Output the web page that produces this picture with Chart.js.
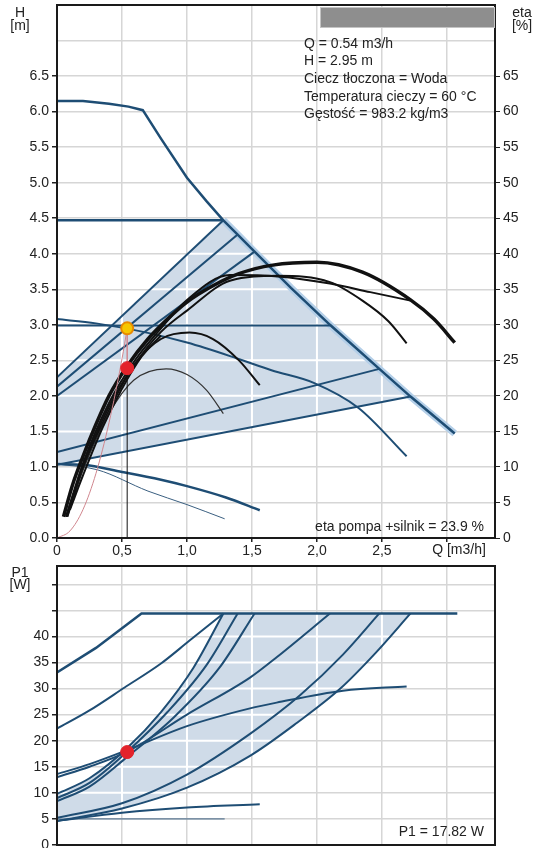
<!DOCTYPE html>
<html lang="pl">
<head>
<meta charset="UTF-8">
<title>Krzywe pompy</title>
<script src="https://cdn.jsdelivr.net/npm/chart.js"></script>
<style>
  body { margin: 0; background: #fff; }
  #topBox { position: absolute; left: 0; top: 0; width: 544px; height: 560px; }
  #botBox { position: absolute; left: 0; top: 560px; width: 544px; height: 288px; }
</style>
</head>
<body>
<div id="topBox"><canvas id="hChart"></canvas></div>
<div id="botBox"><canvas id="pChart"></canvas></div>
<script>
// ---- data: [Q m3/h, H m] ----
const hMax     = [[0,6.15],[0.2,6.15],[0.4,6.11],[0.55,6.07],[0.66,6.02],[0.8,5.62],[1.0,5.07],[1.15,4.74],[1.28,4.47],[1.39,4.27],[1.52,4.03],[1.8,3.52],[2.1,3.0],[2.48,2.38],[2.72,1.99],[3.06,1.47]];
const hConst45 = [[0,4.47],[1.28,4.47]];
const hConst3  = [[0,2.99],[2.1,2.99]];
const hProp1   = [[0,2.26],[1.28,4.47]];
const hProp2   = [[0,2.13],[1.39,4.27]];
const hProp3   = [[0,2.0],[1.52,4.03]];
const hRise1   = [[0,1.21],[2.48,2.38]];
const hRise2   = [[0,1.03],[2.72,1.99]];
const hSpeed   = [[0,3.08],[0.3,3.02],[0.69,2.89],[1.0,2.75],[1.38,2.53],[1.65,2.36],[1.98,2.18],[2.32,1.83],[2.69,1.15]];
const hMin     = [[0,1.04],[0.2,1.03],[0.5,0.93],[0.8,0.82],[1.0,0.73],[1.3,0.57],[1.56,0.39]];
const hMinThin = [[0,1.04],[0.31,0.96],[0.7,0.66],[1.0,0.47],[1.29,0.27]];
const hSystem  = [[0,0],[0.1,0.1],[0.2,0.4],[0.3,0.91],[0.4,1.62],[0.5,2.52],[0.54,2.95]];

// efficiency curves: [Q, eta %]
const etaA = [[0.05,3],[0.12,7.5],[0.2,11.5],[0.3,16],[0.4,20],[0.54,24.2],[0.7,28],[0.85,30.8],[1.0,33.2],[1.2,35.5],[1.4,37.2],[1.66,38.4],[2.0,38.8],[2.35,37.4],[2.72,33.5],[2.9,30.8],[3.06,27.5]];
const etaB = [[0.08,3],[0.2,10],[0.4,18.5],[0.6,24.5],[0.8,29],[1.0,32],[1.33,36.2],[1.7,36.9],[2.1,36],[2.35,33.4],[2.55,30.5],[2.69,27.4]];
const etaC = [[0.07,3],[0.2,10.5],[0.4,19],[0.6,25],[0.8,29.5],[1.0,33.5],[1.33,37],[1.7,36.8],[2.1,35.8],[2.41,34.6],[2.72,33.4]];
const etaD = [[0.07,3],[0.2,10],[0.4,18],[0.6,24.5],[0.8,28],[1.02,28.9],[1.2,28],[1.4,25],[1.56,21.5]];
const etaE = [[0.08,3],[0.2,9.5],[0.4,17.5],[0.59,22.2],[0.84,23.8],[1.0,23],[1.15,20.8],[1.28,17.5]];
const etaF = [[0.1,4],[0.2,8.8],[0.35,15.5],[0.5,21],[0.65,25.5],[0.8,28.5]];

// power curves: [Q, P1 W]
const pMax     = [[0,33.1],[0.3,37.8],[0.65,44.4],[3.08,44.4]];
const pConst45 = [[0,22.3],[0.25,25.8],[0.52,30.2],[0.8,34.8],[1.02,39.2],[1.28,44.4]];
const pProp1   = [[0,9.8],[0.25,12.8],[0.54,18.6],[0.8,25.5],[1.05,34],[1.28,44.4]];
const pProp2   = [[0,9.0],[0.25,11.9],[0.54,17.9],[0.85,25.5],[1.15,34.5],[1.39,44.4]];
const pProp3   = [[0,8.4],[0.25,11.2],[0.54,16.9],[0.9,24.5],[1.25,34],[1.52,44.4]];
const pConst3  = [[0,13.0],[0.25,15],[0.54,17.9],[1.0,25],[1.485,32.1],[1.69,36],[2.1,44.4]];
const pSpeed   = [[0,13.6],[0.25,15.5],[0.54,18.2],[1.0,22.8],[1.485,26.2],[1.69,27.3],[2.2,29.6],[2.69,30.4]];
const pRise1   = [[0,5.2],[0.5,8],[1.0,13.5],[1.485,21.3],[1.87,28.7],[2.2,36.5],[2.48,44.4]];
const pRise2   = [[0,4.6],[0.5,7],[1.0,11],[1.485,17.1],[1.85,23.5],[2.18,30],[2.45,36.8],[2.72,44.4]];
const pMin     = [[0,4.6],[0.5,6.2],[1.0,7.2],[1.56,7.8]];
const pMinThin = [[0,5.0],[1.29,5.0]];

// duty point
const dutyQ = 0.54, dutyH = 2.95, dutyEta = 23.9, dutyP = 17.82;

const infoLines = ['Q = 0.54 m3/h', 'H = 2.95 m', 'Ciecz tłoczona = Woda', 'Temperatura cieczy = 60 °C', 'Gęstość = 983.2 kg/m3'];

const FONT = '"Liberation Sans", Arial, sans-serif';
const BLUE = '#1e4d74';
const BLACK = '#111';
const GRID = '#d6d6d6';
const SHADE = '#cfdbe8';
const GLOW = '#b4cfe8';

const xy = a => a.map(p => ({ x: p[0], y: p[1] }));

function curve(data, color, width, extra) {
  return Object.assign({
    type: 'line', data: xy(data), borderColor: color, borderWidth: width,
    pointRadius: 0, fill: false, cubicInterpolationMode: 'monotone', order: 3
  }, extra || {});
}
const straight = { cubicInterpolationMode: 'default', tension: 0 };

function shadeSet(data, yAxisID) {
  return { type: 'line', data: xy(data), yAxisID, fill: 'shape', backgroundColor: SHADE,
    borderWidth: 0, pointRadius: 0, tension: 0, order: 10, shade: true };
}

// white grid lines inside the shaded operating range
const shadeGrid = {
  id: 'shadeGrid',
  afterDatasetDraw(chart, args) {
    const ds = chart.data.datasets[args.index];
    if (!ds.shade) return;
    const ctx = chart.ctx, area = chart.chartArea;
    const xs = chart.scales.x, ys = chart.scales[ds.yAxisID];
    const pts = args.meta.data;
    ctx.save();
    ctx.beginPath();
    pts.forEach((p, i) => i ? ctx.lineTo(p.x, p.y) : ctx.moveTo(p.x, p.y));
    ctx.closePath();
    ctx.clip();
    ctx.strokeStyle = '#fff';
    ctx.lineWidth = 2;
    xs.ticks.forEach(t => {
      const x = xs.getPixelForValue(t.value);
      ctx.beginPath(); ctx.moveTo(x, area.top); ctx.lineTo(x, area.bottom); ctx.stroke();
    });
    ys.ticks.forEach(t => {
      const y = ys.getPixelForValue(t.value);
      ctx.beginPath(); ctx.moveTo(area.left, y); ctx.lineTo(area.right, y); ctx.stroke();
    });
    ctx.restore();
  }
};

function frame(chart) {
  const a = chart.chartArea, ctx = chart.ctx;
  ctx.save();
  ctx.strokeStyle = '#1a1a1a';
  ctx.lineWidth = 2;
  ctx.strokeRect(a.left, a.top, a.right - a.left, a.bottom - a.top);
  ctx.restore();
}

const topText = {
  id: 'topText',
  afterDraw(chart) {
    frame(chart);
    const ctx = chart.ctx;
    ctx.save();
    // grey legend bar
    ctx.fillStyle = '#8e8e8e';
    ctx.fillRect(320, 7, 175, 20);
    ctx.strokeStyle = '#c4c4c4';
    ctx.lineWidth = 1;
    ctx.strokeRect(320.5, 7.5, 174, 20);
    ctx.fillStyle = '#222';
    ctx.font = '14px ' + FONT;
    ctx.textAlign = 'center';
    ctx.textBaseline = 'middle';
    ctx.fillText('H', 20, 13);
    ctx.fillText('[m]', 20, 26);
    ctx.fillText('eta', 522, 13);
    ctx.fillText('[%]', 522, 26);
    ctx.fillText('Q [m3/h]', 459, 550);
    ctx.textAlign = 'left';
    infoLines.forEach((t, i) => ctx.fillText(t, 304, 44 + i * 17.6));
    ctx.textAlign = 'right';
    ctx.fillText('eta pompa +silnik = ' + dutyEta + ' %', 484, 527);
    ctx.restore();
  }
};

const botText = {
  id: 'botText',
  afterDraw(chart) {
    frame(chart);
    const ctx = chart.ctx;
    ctx.save();
    ctx.fillStyle = '#222';
    ctx.font = '14px ' + FONT;
    ctx.textAlign = 'center';
    ctx.textBaseline = 'middle';
    ctx.fillText('P1', 20, 13);
    ctx.fillText('[W]', 20, 25);
    ctx.textAlign = 'right';
    ctx.fillText('P1 = ' + dutyP + ' W', 484, 272);
    ctx.restore();
  }
};

const tickFont = { family: FONT, size: 14 };
const hideTick = limit => c => (c.tick && c.tick.value > limit) ? 'rgba(0,0,0,0)' : '#222';
// keep the plot area exactly where the reference has it
const noPad = s => { s.paddingTop = 0; s.paddingBottom = 0; s.paddingLeft = 0; s.paddingRight = 0; };

const xScale = (showLabels) => ({
  type: 'linear', min: 0, max: 3.37,
  ticks: {
    display: showLabels, stepSize: 0.5, includeBounds: false, autoSkip: false, maxRotation: 0,
    padding: 1, color: '#222', font: tickFont,
    callback: v => v === 0 ? '0' : (v > 2.9 ? '' : v.toFixed(1).replace('.', ','))
  },
  grid: { color: GRID, lineWidth: 1.5, tickLength: showLabels ? 4 : 0, tickColor: '#222' },
  border: { display: false },
  afterFit: s => { s.height = showLabels ? 22 : 0; noPad(s); }
});

const hShade = [...hProp1, ...hMax.filter(p => p[0] > 1.28 && p[0] <= 2.72), ...hRise2.slice().reverse()];
const hMaxLow = hMax.filter(p => p[0] >= 1.28);
const pShade = [...pProp1, ...pRise2.slice().reverse()];

new Chart(document.getElementById('hChart'), {
  type: 'line',
  data: {
    datasets: [
      shadeSet(hShade, 'y'),
      curve(hMaxLow, GLOW, 7, Object.assign({ order: 4 }, straight)),
      curve(hMax, BLUE, 2.5, straight),
      curve(hConst45, BLUE, 2.5),
      curve(hConst3, BLUE, 2),
      curve(hProp1, BLUE, 2),
      curve(hProp2, BLUE, 2),
      curve(hProp3, BLUE, 2),
      curve(hRise1, BLUE, 2),
      curve(hRise2, BLUE, 2),
      curve(hSpeed, BLUE, 2),
      curve(hMin, BLUE, 2.5),
      curve(hMinThin, '#3a5f80', 1),
      curve(etaA, BLACK, 3.5, { yAxisID: 'eta', order: 2 }),
      curve(etaB, BLACK, 2, { yAxisID: 'eta', order: 2 }),
      curve(etaC, BLACK, 2, { yAxisID: 'eta', order: 2 }),
      curve(etaD, BLACK, 2, { yAxisID: 'eta', order: 2 }),
      curve(etaF, BLACK, 2, { yAxisID: 'eta', order: 2 }),
      curve(etaE, '#333', 1.2, { yAxisID: 'eta', order: 2 }),
      curve(hSystem, '#d0868e', 1, { order: 1 }),
      curve([[dutyQ, 0], [dutyQ, dutyEta]], BLACK, 1, Object.assign({ yAxisID: 'eta', order: 1 }, straight)),
      curve([[dutyQ, dutyEta], [dutyQ, dutyH * 10]], '#d0868e', 1.5, Object.assign({ yAxisID: 'eta', order: 1 }, straight)),
      { type: 'scatter', data: xy([[dutyQ, dutyEta]]), yAxisID: 'eta', pointRadius: 6.5,
        pointBackgroundColor: '#e3232b', pointBorderColor: '#e3232b', order: 0 },
      { type: 'scatter', data: xy([[dutyQ, dutyH]]), yAxisID: 'y', pointRadius: 6,
        pointBackgroundColor: '#f6c700', pointBorderColor: '#e98a00', pointBorderWidth: 2, order: 0 }
    ]
  },
  options: {
    responsive: true, maintainAspectRatio: false, animation: false,
    layout: { autoPadding: false, padding: { top: 5 } },
    plugins: { legend: { display: false }, tooltip: { enabled: false } },
    scales: {
      x: xScale(true),
      y: {
        type: 'linear', position: 'left', min: 0, max: 7.5,
        ticks: { stepSize: 0.5, includeBounds: false, padding: 3, color: '#222', font: tickFont,
          callback: v => v > 6.51 ? '' : v.toFixed(1) },
        grid: { color: GRID, lineWidth: 1.5, tickLength: 5, tickColor: hideTick(6.51) },
        border: { display: false },
        afterFit: s => { s.width = 57; noPad(s); }
      },
      eta: {
        type: 'linear', position: 'right', min: 0, max: 75,
        ticks: { stepSize: 5, includeBounds: false, padding: 3, color: '#222', font: tickFont,
          callback: v => v > 65.1 ? '' : v },
        grid: { drawOnChartArea: false, tickLength: 5, tickColor: hideTick(65.1) },
        border: { display: false },
        afterFit: s => { s.width = 49; noPad(s); }
      }
    }
  },
  plugins: [shadeGrid, topText]
});

new Chart(document.getElementById('pChart'), {
  type: 'line',
  data: {
    datasets: [
      shadeSet(pShade, 'y'),
      curve(pMax, BLUE, 2.5, straight),
      curve(pConst45, BLUE, 2),
      curve(pProp1, BLUE, 2),
      curve(pProp2, BLUE, 2),
      curve(pProp3, BLUE, 2),
      curve(pConst3, BLUE, 2),
      curve(pSpeed, BLUE, 2),
      curve(pRise1, BLUE, 2),
      curve(pRise2, BLUE, 2),
      curve(pMin, BLUE, 2),
      curve(pMinThin, '#3a5f80', 1),
      { type: 'scatter', data: xy([[dutyQ, dutyP]]), pointRadius: 6.5,
        pointBackgroundColor: '#e3232b', pointBorderColor: '#e3232b', order: 0 }
    ]
  },
  options: {
    responsive: true, maintainAspectRatio: false, animation: false,
    layout: { autoPadding: false, padding: { top: 6, right: 49, bottom: 3 } },
    plugins: { legend: { display: false }, tooltip: { enabled: false } },
    scales: {
      x: xScale(false),
      y: {
        type: 'linear', position: 'left', min: 0, max: 53.5,
        ticks: { stepSize: 5, includeBounds: false, padding: 3, color: '#222', font: tickFont,
          callback: v => v > 40.1 ? '' : v },
        grid: { color: GRID, lineWidth: 1.5, tickLength: 5, tickColor: '#222' },
        border: { display: false },
        afterFit: s => { s.width = 57; noPad(s); }
      }
    }
  },
  plugins: [shadeGrid, botText]
});
</script>
</body>
</html>
